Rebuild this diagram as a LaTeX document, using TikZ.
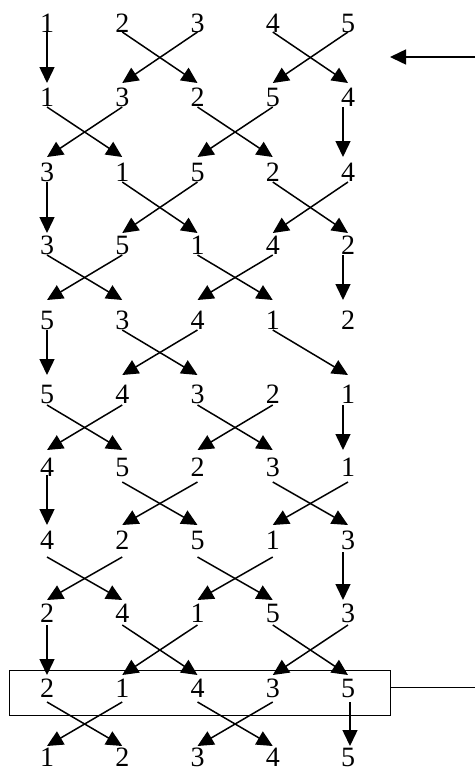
\documentclass[tikz,border=0pt]{standalone}
\usepackage{fontspec}
\setmainfont{Liberation Serif}
\usetikzlibrary{arrows.meta,calc}
\newcommand\lk[5][0]{\draw[arr] ($(#2)+(#1,#4)$) -- ($(#3)+(#1,-#5)$);}
\begin{document}
\begin{tikzpicture}[x=1pt,y=-1pt,
  num/.style={inner sep=0pt, font=\fontsize{28}{28}\selectfont},
  arr/.style={line width=1.5pt, -{Triangle[length=16pt,width=15pt]}},
  plain/.style={line width=1pt}]
\useasboundingbox (0,0) rectangle (475,772);
\foreach \r/\y/\vals in {1/23/{1,2,3,4,5}, 2/97/{1,3,2,5,4}, 3/172/{3,1,5,2,4},
  4/245/{3,5,1,4,2}, 5/320/{5,3,4,1,2}, 6/394/{5,4,3,2,1}, 7/467/{4,5,2,3,1},
  8/540/{4,2,5,1,3}, 9/613/{2,4,1,5,3}, 10/688/{2,1,4,3,5}, 11/757/{1,2,3,4,5}}{
  \foreach \v [count=\c] in \vals {
    \pgfmathsetmacro\xx{47+75.25*(\c-1)}
    \node[num] (n\r-\c) at (\xx,\y) {\v};
  }
}
% gap 1
\lk{n1-1}{n2-1}{9}{14} \lk{n1-2}{n2-3}{9}{14} \lk{n1-3}{n2-2}{9}{14} \lk{n1-4}{n2-5}{9}{14} \lk{n1-5}{n2-4}{9}{14}
% gap 2
\lk{n2-1}{n3-2}{10}{15} \lk{n2-2}{n3-1}{10}{15} \lk{n2-3}{n3-4}{10}{15} \lk{n2-4}{n3-3}{10}{15} \lk[-5]{n2-5}{n3-5}{10}{15}
% gap 3
\lk{n3-1}{n4-1}{10}{12} \lk{n3-2}{n4-3}{10}{12} \lk{n3-3}{n4-2}{10}{12} \lk{n3-4}{n4-5}{10}{12} \lk{n3-5}{n4-4}{10}{12}
% gap 4
\lk{n4-1}{n5-2}{10}{20} \lk{n4-2}{n5-1}{10}{20} \lk{n4-3}{n5-4}{10}{20} \lk{n4-4}{n5-3}{10}{20} \lk[-5]{n4-5}{n5-5}{10}{20}
% gap 5
\lk{n5-1}{n6-1}{10}{19} \lk{n5-2}{n6-3}{10}{19} \lk{n5-3}{n6-2}{10}{19} \lk{n5-4}{n6-5}{10}{19}
% gap 6
\lk{n6-1}{n7-2}{11}{17} \lk{n6-2}{n7-1}{11}{17} \lk{n6-3}{n7-4}{11}{17} \lk{n6-4}{n7-3}{11}{17} \lk[-5]{n6-5}{n7-5}{11}{17}
% gap 7
\lk{n7-1}{n8-1}{8}{15} \lk{n7-2}{n8-3}{15}{15} \lk{n7-3}{n8-2}{15}{15} \lk{n7-4}{n8-5}{15}{15} \lk{n7-5}{n8-4}{15}{15}
% gap 8
\lk{n8-1}{n9-2}{17}{13} \lk{n8-2}{n9-1}{17}{13} \lk{n8-3}{n9-4}{17}{13} \lk{n8-4}{n9-3}{17}{13} \lk[-5]{n8-5}{n9-5}{12}{13}
% gap 9
\lk{n9-1}{n10-1}{12}{13} \lk{n9-2}{n10-3}{12}{13} \lk{n9-3}{n10-2}{12}{13} \lk{n9-4}{n10-5}{12}{13} \lk{n9-5}{n10-4}{12}{13}
% gap 10
\lk{n10-1}{n11-2}{14}{11} \lk{n10-2}{n11-1}{14}{11} \lk{n10-3}{n11-4}{14}{11} \lk{n10-4}{n11-3}{14}{11} \lk[2]{n10-5}{n11-5}{14}{11}
% frame and side marks
\draw[plain] (9,670) rectangle (390,715);
\coordinate (boxr) at (390,687);
\coordinate (boxend) at (475,687);
\draw[plain] (boxr) -- (boxend);
\coordinate (topstart) at (475,57);
\coordinate (topend) at (390,57);
\draw[arr] (topstart) -- (topend);
\end{tikzpicture}
\end{document}
